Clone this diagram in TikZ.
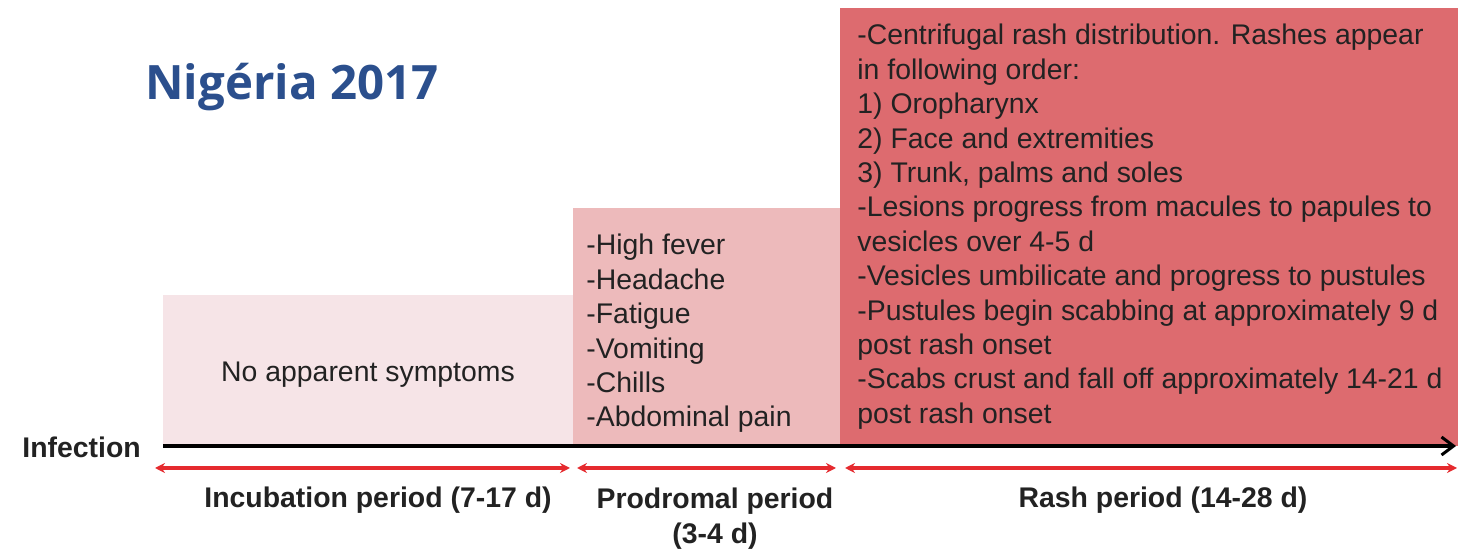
\documentclass[tikz,border=0pt]{standalone}
\usepackage{fontspec}
\setmainfont{Liberation Sans}
\newfontfamily\titlefont{Open Sans}
\usetikzlibrary{arrows.meta}
\definecolor{incub}{HTML}{F6E4E7}
\definecolor{prod}{HTML}{EDBABB}
\definecolor{rash}{HTML}{DD6B6F}
\definecolor{titleblue}{HTML}{2B4F8D}
\definecolor{arrowred}{HTML}{E52A2E}
\definecolor{txt}{HTML}{222222}
\tikzset{
  body/.style={font=\fontsize{14.2}{17.2}\selectfont, text=txt, inner sep=0pt, align=left},
  lbl/.style={font=\bfseries\fontsize{14.2}{17.2}\selectfont, text=txt, inner sep=0pt, align=center},
  span/.style={arrowred, line width=1.8pt, {Stealth[length=5pt,width=5pt]}-{Stealth[length=5pt,width=5pt]}},
  axis/.style={black, line width=2pt, -{Straight Barb[length=6pt,width=9pt,line width=1.5pt]}}
}
\begin{document}
\begin{tikzpicture}[x=0.5pt,y=-0.5pt]
\useasboundingbox (0,0) rectangle (1458,550);
% period boxes
\fill[incub] (163,295) rectangle (573,446);
\fill[prod] (573,208) rectangle (840,446);
\fill[rash] (840,8) rectangle (1458,446);
% title
\node[anchor=west, inner sep=0pt, text=titleblue, font=\titlefont\bfseries\fontsize{23.7}{28}\selectfont] (title) at (145,87) {Nigéria 2017};
% box texts
\node[body, anchor=center] (none) at (368,375) {No apparent symptoms};
\node[body, anchor=north west] (prodtxt) at (586,234) {-High fever\\-Headache\\-Fatigue\\-Vomiting\\-Chills\\-Abdominal pain};
\node[body, anchor=north west] (rashtxt) at (857,24) {-Centrifugal rash distribution. Rashes appear\\in following order:\\1) Oropharynx\\2) Face and extremities\\3) Trunk, palms and soles\\-Lesions progress from macules to papules to\\vesicles over 4-5 d\\-Vesicles umbilicate and progress to pustules\\-Pustules begin scabbing at approximately 9 d\\post rash onset\\-Scabs crust and fall off approximately 14-21 d\\post rash onset};
% axis
\node[lbl, anchor=west] (infection) at (22,447) {Infection};
\coordinate (a0) at (163,446);
\coordinate (a1) at (1456,446);
\draw[axis] (a0) -- (a1);
% spans
\coordinate (s0) at (155,468);
\coordinate (s1) at (570,468);
\coordinate (s2) at (577,468);
\coordinate (s3) at (836,468);
\coordinate (s4) at (845,468);
\coordinate (s5) at (1457,468);
\draw[span] (s0) -- (s1);
\draw[span] (s2) -- (s3);
\draw[span] (s4) -- (s5);
% labels
\node[lbl] (l1) at (378,500) {Incubation period (7-17 d)};
\node[lbl, anchor=north] (l2) at (715,488) {Prodromal period\\(3-4 d)};
\node[lbl] (l3) at (1163,500) {Rash period (14-28 d)};
\end{tikzpicture}
\end{document}
